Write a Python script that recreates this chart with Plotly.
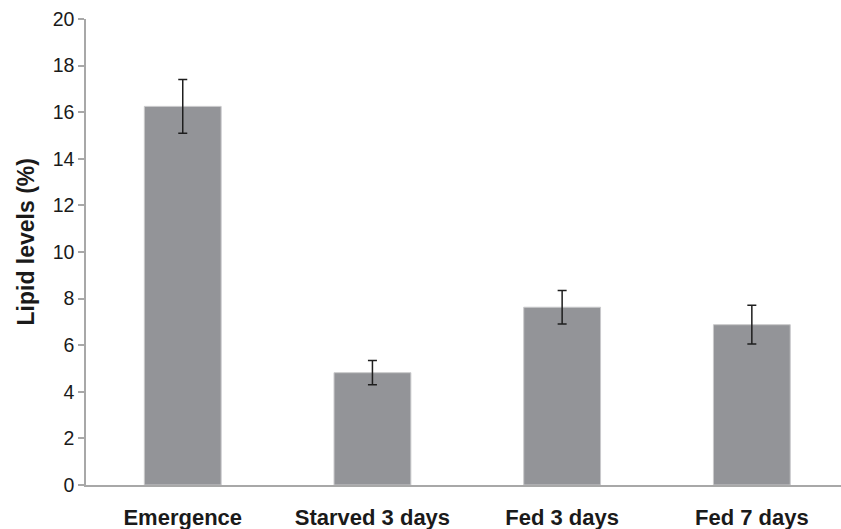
import plotly.graph_objects as go

categories = ["Emergence", "Starved 3 days", "Fed 3 days", "Fed 7 days"]
lipid_levels = [16.25, 4.82, 7.63, 6.88]
error_values = [1.15, 0.52, 0.72, 0.83]
y_ticks = [0, 2, 4, 6, 8, 10, 12, 14, 16, 18, 20]
y_title = "Lipid levels (%)"

fig = go.Figure(
    go.Bar(
        x=list(range(len(categories))),
        y=lipid_levels,
        width=0.405,
        marker=dict(color="#939498", line=dict(color="#c9c9cb", width=1)),
        error_y=dict(type="data", array=error_values, visible=True,
                     color="#1e1e1e", thickness=1.5, width=4.5),
    )
)

W, H = 841, 529
L, R, T, B = 86, 0, 19, 44
fig.update_layout(
    width=W, height=H,
    margin=dict(l=L, r=R, t=T, b=B),
    paper_bgcolor="white", plot_bgcolor="white",
    showlegend=False,
    font=dict(family="Liberation Sans, Arial, sans-serif", color="#1a1a1a"),
)
fig.update_xaxes(
    range=[-0.51, 3.47],
    tickmode="array", tickvals=list(range(len(categories))),
    ticktext=[f"<b>{c}</b>" for c in categories],
    tickfont=dict(size=22, family="Liberation Sans, Arial, sans-serif", color="#1a1a1a"),
    showline=True, linecolor="#a8a8a8", linewidth=1.5,
    ticks="outside", ticklen=12, tickcolor="rgba(0,0,0,0)",
    showgrid=False, zeroline=False, automargin=False,
)
fig.update_yaxes(
    range=[0, 20],
    tickmode="array", tickvals=y_ticks,
    tickfont=dict(size=19.5, color="#1a1a1a"),
    showline=True, linecolor="#a8a8a8", linewidth=1.5,
    ticks="outside", ticklen=6, tickcolor="#a8a8a8", tickwidth=1.5,
    showgrid=False, zeroline=False, automargin=False,
)
plot_w = W - L - R
plot_h = H - T - B
fig.add_annotation(
    text=f"<b>{y_title}</b>", textangle=-90,
    xref="paper", yref="paper",
    x=(25 - L) / plot_w, y=(H - B - 242.5) / plot_h,
    xanchor="center", yanchor="middle", showarrow=False,
    font=dict(size=23, color="#1a1a1a"),
)

fig.write_html("out.html", config={"displayModeBar": False},
               post_script="document.body.style.margin='0';")
